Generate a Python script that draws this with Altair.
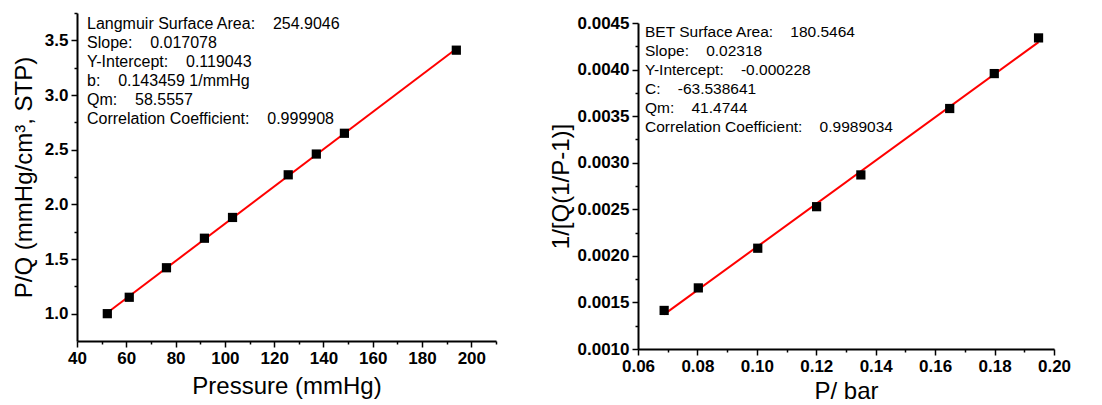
import altair as alt
import pandas as pd

FONT = "Liberation Sans"

# ---- Langmuir panel data ----
lang_pressure = [52.3, 61.2, 76.3, 91.7, 103.1, 125.7, 137.1, 148.5, 193.9]
lang_pq = [1.00, 1.15, 1.42, 1.69, 1.88, 2.27, 2.46, 2.65, 3.41]
lang_labels = ["Langmuir Surface Area:", "Slope:", "Y-Intercept:", "b:", "Qm:", "Correlation Coefficient:"]
lang_values = ["254.9046", "0.017078", "0.119043", "0.143459 1/mmHg", "58.5557", "0.999908"]
lang_x_major = [40, 60, 80, 100, 120, 140, 160, 180, 200]
lang_x_minor = [50, 70, 90, 110, 130, 150, 170, 190, 210]
lang_y_major = [1.0, 1.5, 2.0, 2.5, 3.0, 3.5]
lang_y_minor = [1.25, 1.75, 2.25, 2.75, 3.25, 3.75]

# ---- BET panel data ----
bet_p = [0.0688, 0.0803, 0.1003, 0.1201, 0.1350, 0.1649, 0.1799, 0.1948]
bet_y = [0.001414, 0.001656, 0.002082, 0.002528, 0.002869, 0.003582, 0.003957, 0.004340]
bet_labels = ["BET Surface Area:", "Slope:", "Y-Intercept:", "C:", "Qm:", "Correlation Coefficient:"]
bet_values = ["180.5464", "0.02318", "-0.000228", "-63.538641", "41.4744", "0.9989034"]
bet_x_major = [0.06, 0.08, 0.10, 0.12, 0.14, 0.16, 0.18, 0.20]
bet_x_minor = [0.07, 0.09, 0.11, 0.13, 0.15, 0.17, 0.19]
bet_y_major = [0.0010, 0.0015, 0.0020, 0.0025, 0.0030, 0.0035, 0.0040, 0.0045]
bet_y_minor = [0.00125, 0.00175, 0.00225, 0.00275, 0.00325, 0.00375, 0.00425]

GAP = "\u00a0" * 4


def note_text(labels, values):
    return "\n".join(l + GAP + v for l, v in zip(labels, values))


def panel(xs_, ys_, xdom, ydom, xmaj, xmin, ymaj, ymin, xfmt, yfmt,
          xtitle, ytitle, note, nx, ny, fs, w, h, xtp, ytp):
    df = pd.DataFrame({"x": xs_, "y": ys_})
    base = alt.Chart(df)
    xs = alt.Scale(domain=xdom, nice=False, zero=False)
    ys = alt.Scale(domain=ydom, nice=False, zero=False)
    minor = base.mark_point(opacity=0).encode(
        x=alt.X("x:Q", scale=xs, axis=alt.Axis(values=xmin, labels=False, domain=False,
                                               tickSize=3, title=None, orient="bottom")),
        y=alt.Y("y:Q", scale=ys, axis=alt.Axis(values=ymin, labels=False, domain=False,
                                               tickSize=3, title=None, orient="left")),
    )
    line = base.transform_regression("x", "y").mark_line(color="#ff0000", strokeWidth=2).encode(
        x=alt.X("x:Q", scale=xs, axis=None),
        y=alt.Y("y:Q", scale=ys, axis=None),
    )
    pts = base.mark_square(size=85, color="black", opacity=1).encode(
        x=alt.X("x:Q", scale=xs, axis=alt.Axis(values=xmaj, format=xfmt, title=xtitle,
                                               titlePadding=xtp, orient="bottom")),
        y=alt.Y("y:Q", scale=ys, axis=alt.Axis(values=ymaj, format=yfmt, title=ytitle,
                                               titlePadding=ytp, orient="left")),
    )
    txt = alt.Chart(pd.DataFrame({"t": [note]})).mark_text(
        align="left", baseline="top", lineBreak="\n", lineHeight=19,
        font=FONT, fontSize=fs, color="black",
    ).encode(text="t:N", x=alt.value(nx), y=alt.value(ny))
    return alt.layer(minor, line, pts, txt).resolve_axis(
        x="independent", y="independent").properties(width=w, height=h)


left = panel(lang_pressure, lang_pq, [40, 210], [0.75, 3.75],
             lang_x_major, lang_x_minor, lang_y_major, lang_y_minor,
             "d", ".1f", "Pressure (mmHg)", "P/Q (mmHg/cm\u00b3, STP)",
             note_text(lang_labels, lang_values), 10, 3, 16, 419, 328, 8, 8)

right = panel(bet_p, bet_y, [0.06, 0.20], [0.0010, 0.0045],
              bet_x_major, bet_x_minor, bet_y_major, bet_y_minor,
              ".2f", ".4f", "P/ bar", "1/[Q(1/P-1)]",
              note_text(bet_labels, bet_values), 7, 2, 15.5, 416, 326, 5, 4)

# invisible spacer that pushes the right panel slightly lower
spacer = alt.Chart(pd.DataFrame({"a": [0]})).mark_rule(strokeOpacity=0).encode(
    x=alt.value(0), x2=alt.value(1), y=alt.value(0)
).properties(width=1, height=1)

chart = alt.hconcat(left, alt.vconcat(spacer, right, spacing=0), spacing=52).properties(
    padding={"left": 12, "top": 12, "right": 5, "bottom": 0},
    background="white",
).configure_view(stroke=None).configure_axis(
    domainColor="black", domainWidth=2, tickColor="black", tickWidth=1.5, tickSize=6,
    labelFont=FONT, labelFontSize=17, labelFontWeight="bold", labelColor="black",
    labelPadding=3, labelFlush=False, labelOverlap=False,
    titleFont=FONT, titleFontSize=24, titleFontWeight="normal", titleColor="black",
    grid=False,
)

chart.save("out.html", embed_options={"renderer": "svg", "actions": False})
